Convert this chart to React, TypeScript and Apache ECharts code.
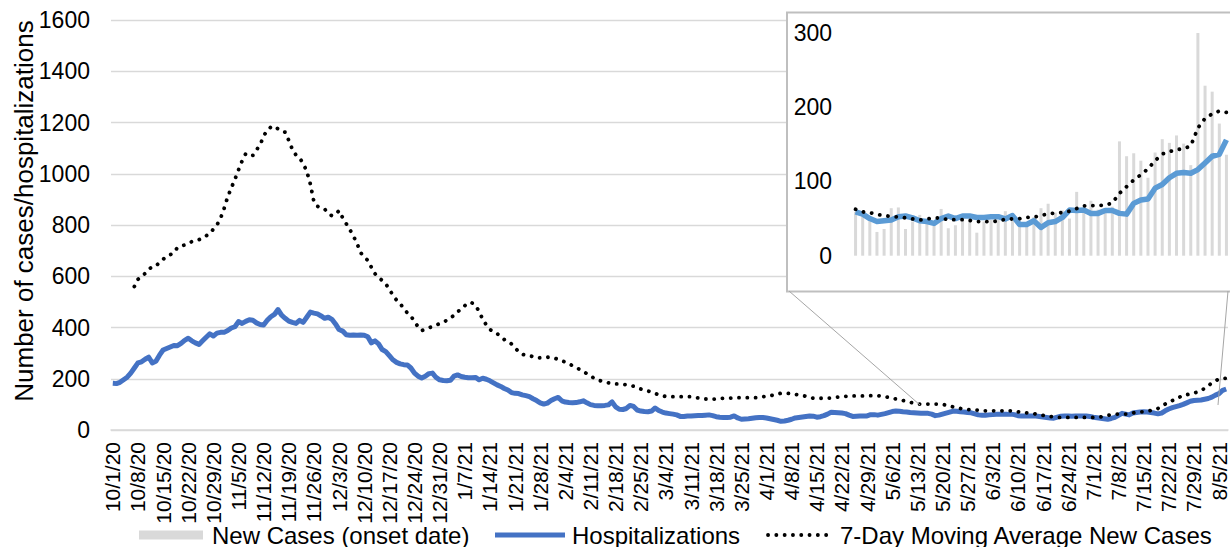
import React, { useEffect, useRef } from 'react';
import * as echarts from 'echarts';

const FONT = '"Liberation Sans", Arial, Helvetica, sans-serif';

// Main chart: daily categories 10/1/20 .. 8/7/21
const MAIN_START = { y: 2020, m: 10, d: 1 };
const MAIN_DAYS = 311;
// Inset: daily categories 6/16/21 .. 8/7/21
const INSET_START = { y: 2021, m: 6, d: 16 };
const INSET_DAYS = 53;

const yTicksMain = [0, 1600, 200]; // min, max, interval
const yTicksInset = [0, 300, 100];

function buildDates(start: { y: number; m: number; d: number }, n: number): string[] {
  const out: string[] = [];
  const dt = new Date(start.y, start.m - 1, start.d);
  for (let i = 0; i < n; i++) {
    out.push(`${dt.getMonth() + 1}/${dt.getDate()}/${String(dt.getFullYear()).slice(2)}`);
    dt.setDate(dt.getDate() + 1);
  }
  return out;
}

const mainDates = buildDates(MAIN_START, MAIN_DAYS);
const insetDates = buildDates(INSET_START, INSET_DAYS);

// Hospitalizations (main chart)
const hospitalizations = [
  182, 181, 186, 196, 206, 222, 242, 262, 266, 276,
  284, 262, 268, 292, 312, 318, 324, 330, 329, 338,
  350, 358, 348, 340, 334, 348, 362, 375, 367, 378,
  381, 381, 388, 398, 403, 423, 416, 424, 430, 428,
  418, 412, 410, 428, 442, 451, 470, 448, 436, 425,
  420, 416, 428, 420, 440, 460, 456, 453, 445, 436,
  440, 432, 414, 392, 386, 372, 370, 371, 370, 371,
  370, 364, 340, 348, 336, 314, 306, 290, 274, 264,
  258, 255, 254, 242, 222, 210, 203, 210, 220, 222,
  205, 196, 193, 192, 194, 210, 215, 209, 206, 204,
  204, 205, 196, 202, 198, 192, 184, 176, 170, 162,
  156, 146, 143, 142, 137, 134, 130, 122, 115, 106,
  101, 105, 115, 122, 127, 114, 109, 107, 106, 107,
  110, 114, 106, 99, 96, 95, 95, 96, 98, 110,
  90, 81, 80, 84, 96, 92, 78, 74, 72, 71,
  74, 86, 76, 70, 66, 64, 62, 59, 53, 53,
  55, 55, 56, 57, 57, 58, 59, 56, 52, 50,
  49, 49, 50, 55, 47, 42, 43, 44, 46, 48,
  49, 49, 47, 44, 41, 38, 34, 35, 38, 42,
  47, 49, 51, 53, 55, 54, 50, 52, 56, 62,
  69, 68, 67, 66, 64, 58, 53, 54, 55, 55,
  55, 60, 60, 58, 61, 64, 68, 72, 74, 73,
  71, 70, 68, 67, 66, 65, 65, 65, 62, 56,
  58, 62, 66, 70, 74, 73, 71, 70, 68, 67,
  63, 59, 58, 58, 59, 60, 61, 61, 61, 61,
  62, 60, 56, 55, 55, 55, 55, 55, 53, 51,
  49, 47, 46, 50, 54, 55, 55, 54, 55, 55,
  55, 55, 53, 50, 48, 46, 44, 42, 45, 49,
  57, 65, 62, 59, 66, 68, 70, 71, 70, 68,
  66, 63, 66, 75, 82, 87, 91, 95, 100, 106,
  112, 115, 116, 117, 120, 123, 128, 136, 142, 155, 160,
];

// 7-day moving average of new cases (main chart)
const movingAverage: (number | null)[] = [
  null, null, null, null, null, null, 560, 588, 600, 611,
  628, 636, 640, 654, 666, 678, 684, 692, 712, 718,
  722, 728, 735, 739, 743, 749, 758, 766, 784, 800,
  826, 865, 910, 945, 978, 1015, 1050, 1078, 1070, 1072,
  1093, 1112, 1147, 1170, 1182, 1186, 1175, 1166, 1162, 1130,
  1095, 1073, 1062, 1040, 1010, 960, 890, 873, 868, 862,
  845, 836, 842, 856, 828, 805, 782, 757, 728, 692,
  675, 662, 635, 610, 595, 584, 570, 550, 525, 507,
  493, 475, 457, 444, 424, 402, 388, 394, 399, 403,
  409, 415, 421, 428, 438, 447, 462, 470, 485, 497,
  496, 486, 462, 432, 410, 393, 382, 376, 366, 353,
  344, 336, 320, 306, 295, 292, 290, 286, 281, 282,
  284, 284, 283, 280, 276, 270, 265, 258, 251, 244,
  236, 228, 220, 211, 202, 195, 191, 187, 184, 181,
  180, 180, 178, 177, 174, 171, 166, 160, 155, 152,
  148, 143, 137, 133, 131, 130, 130, 130, 130, 130,
  130, 130, 127, 125, 123, 121, 121, 120, 121, 123,
  124, 124, 124, 125, 126, 126, 126, 126, 126, 126,
  128, 130, 131, 133, 137, 141, 143, 143, 143, 141,
  139, 137, 135, 131, 127, 124, 124, 124, 124, 124,
  125, 127, 129, 130, 131, 132, 133, 133, 133, 133,
  133, 134, 134, 134, 132, 130, 127, 124, 121, 118,
  115, 112, 108, 105, 101, 101, 101, 101, 101, 101,
  101, 100, 97, 94, 90, 86, 84, 82, 80, 79,
  78, 77, 75, 75, 75, 75, 75, 75, 75, 75,
  75, 74, 71, 68, 67, 66, 65, 62, 59, 57,
  55, 53, 51, 49, 49, 49, 49, 49, 49, 49,
  49, 49, 49, 49, 49, 51, 54, 57, 60, 61,
  62, 62, 62, 62, 66, 70, 71, 71, 73, 76,
  78, 84, 91, 101, 110, 115, 120, 128, 136, 138,
  140, 144, 148, 155, 162, 172, 184, 192, 199, 201, 202,
];

// Inset series
const insetNewCases = [
  59, 53, 48, 32, 36, 64, 65, 36, 46, 55,
  48, 41, 63, 37, 41, 53, 50, 31, 46, 48,
  48, 60, 54, 41, 41, 52, 64, 70, 58, 61,
  50, 86, 60, 74, 62, 64, 66, 154, 134, 138,
  128, 105, 139, 157, 152, 162, 151, 122, 300, 229,
  221, 178, 136,
];
const insetHosp = [
  59, 56, 50, 46, 47, 48, 52.5, 53.5, 51, 47,
  46, 43.5, 50, 53.5, 50, 53.5, 53.5, 51.5, 51.5, 52.5,
  52.5, 49.5, 54, 42, 42, 47, 38, 44.5, 46, 51.5,
  61.5, 61, 61.5, 57, 57, 61, 61, 57, 56, 70.5,
  75, 76.5, 91, 96, 105, 111, 112, 111, 116, 125,
  134, 136.5, 156,
];
const insetMA = [
  62.5, 59, 58, 55.5, 54, 53, 52, 51, 49.5, 48,
  49.5, 51, 50.5, 48.5, 48.5, 48.5, 47.5, 46, 46, 45.5,
  47, 49, 49.5, 50, 51.5, 52, 54, 56.5, 57.5, 58,
  60, 63.5, 67, 67.5, 67.5, 68, 71, 84, 93, 102,
  109, 117, 128, 137, 140, 143, 144, 148, 172, 185,
  191, 195, 193,
];

const legendLabels = ['New Cases (onset date)', 'Hospitalizations', '7-Day Moving Average New Cases'];
const yTitle = 'Number of cases/hospitalizations';

const DOTS = [0.1, 8.2];

export default function App() {
  const ref = useRef<HTMLDivElement>(null);
  useEffect(() => {
    if (!ref.current) return;
    const chart = echarts.init(ref.current, null, { renderer: 'svg' });
    const txt = (text: string, x: number, y: number, extra: any = {}) => ({
      type: 'text',
      x,
      y,
      z: 10,
      style: {
        text,
        fill: '#000',
        font: `24px ${FONT}`,
        textAlign: 'left',
        textVerticalAlign: 'middle',
        ...extra,
      },
    });
    const plain = (v: number) => String(v);
    chart.setOption({
      animation: false,
      backgroundColor: '#fff',
      textStyle: { fontFamily: FONT },
      grid: [
        { left: 111, right: 2, top: 20, bottom: 117 },
        { left: 852, width: 380, top: 33, height: 222.7 },
      ],
      xAxis: [
        {
          type: 'category',
          gridIndex: 0,
          data: mainDates,
          boundaryGap: true,
          axisLine: { lineStyle: { color: '#d9d9d9', width: 1.5 } },
          axisTick: { show: false },
          axisLabel: {
            interval: 6,
            rotate: 90,
            fontSize: 21,
            color: '#000',
            margin: 12,
            fontFamily: FONT,
          },
        },
        {
          type: 'category',
          gridIndex: 1,
          data: insetDates,
          boundaryGap: true,
          axisLine: { show: false },
          axisTick: { show: false },
          axisLabel: { show: false },
          z: 3,
        },
      ],
      yAxis: [
        {
          type: 'value',
          gridIndex: 0,
          min: yTicksMain[0],
          max: yTicksMain[1],
          interval: yTicksMain[2],
          axisLine: { show: false },
          axisTick: { show: false },
          axisLabel: { fontSize: 23, color: '#000', margin: 21, fontFamily: FONT, formatter: plain },
          splitLine: { lineStyle: { color: '#d9d9d9', width: 1.3 } },
        },
        {
          type: 'value',
          gridIndex: 1,
          min: yTicksInset[0],
          max: yTicksInset[1],
          interval: yTicksInset[2],
          axisLine: { show: false },
          axisTick: { show: false },
          splitLine: { show: false },
          axisLabel: { fontSize: 23, color: '#000', margin: 20, fontFamily: FONT, formatter: plain },
          z: 3,
        },
      ],
      series: [
        {
          name: legendLabels[1],
          type: 'line',
          xAxisIndex: 0,
          yAxisIndex: 0,
          data: hospitalizations,
          symbol: 'none',
          lineStyle: { color: '#4472C4', width: 5, join: 'round' },
          z: 2,
        },
        {
          name: legendLabels[2],
          type: 'line',
          xAxisIndex: 0,
          yAxisIndex: 0,
          data: movingAverage,
          symbol: 'none',
          lineStyle: { color: '#000', width: 3.8, type: DOTS, cap: 'round' },
          z: 2,
        },
        {
          name: legendLabels[0],
          type: 'bar',
          xAxisIndex: 1,
          yAxisIndex: 1,
          data: insetNewCases,
          barWidth: 3,
          itemStyle: { color: '#d9d9d9' },
          z: 3,
        },
        {
          name: 'Inset ' + legendLabels[1],
          type: 'line',
          xAxisIndex: 1,
          yAxisIndex: 1,
          data: insetHosp,
          symbol: 'none',
          lineStyle: { color: '#5B9BD5', width: 5.5, join: 'round' },
          z: 4,
        },
        {
          name: 'Inset ' + legendLabels[2],
          type: 'line',
          xAxisIndex: 1,
          yAxisIndex: 1,
          data: insetMA,
          symbol: 'none',
          lineStyle: { color: '#000', width: 3.8, type: DOTS, cap: 'round' },
          z: 5,
        },
      ],
      graphic: [
        {
          type: 'rect',
          z: 1,
          shape: { x: 787, y: 12.5, width: 460, height: 279 },
          style: { fill: '#fff', stroke: '#bfbfbf', lineWidth: 2 },
        },
        {
          type: 'line',
          z: 6,
          shape: { x1: 789, y1: 291, x2: 920, y2: 405 },
          style: { stroke: '#a6a6a6', lineWidth: 1 },
        },
        {
          type: 'line',
          z: 6,
          shape: { x1: 1228, y1: 291, x2: 1218, y2: 405 },
          style: { stroke: '#a6a6a6', lineWidth: 1 },
        },
        {
          type: 'text',
          x: 24,
          y: 211,
          rotation: Math.PI / 2,
          z: 10,
          style: {
            text: yTitle,
            fill: '#000',
            font: `26px ${FONT}`,
            textAlign: 'center',
            textVerticalAlign: 'middle',
          },
        },
        {
          type: 'rect',
          z: 10,
          shape: { x: 139, y: 530.5, width: 64, height: 9 },
          style: { fill: '#d9d9d9' },
        },
        txt(legendLabels[0], 212, 535),
        {
          type: 'line',
          z: 10,
          shape: { x1: 495, y1: 535, x2: 565, y2: 535 },
          style: { stroke: '#4472C4', lineWidth: 5 },
        },
        txt(legendLabels[1], 572, 535),
        {
          type: 'line',
          z: 10,
          shape: { x1: 768, y1: 535, x2: 834, y2: 535 },
          style: { stroke: '#000', lineWidth: 3.8, lineDash: DOTS, lineCap: 'round' },
        },
        txt(legendLabels[2], 840, 535),
      ],
    });
    return () => chart.dispose();
  }, []);
  return (
    <div
      ref={ref}
      style={{ position: 'fixed', left: 0, top: 0, width: 1230, height: 547, background: '#fff' }}
    />
  );
}
